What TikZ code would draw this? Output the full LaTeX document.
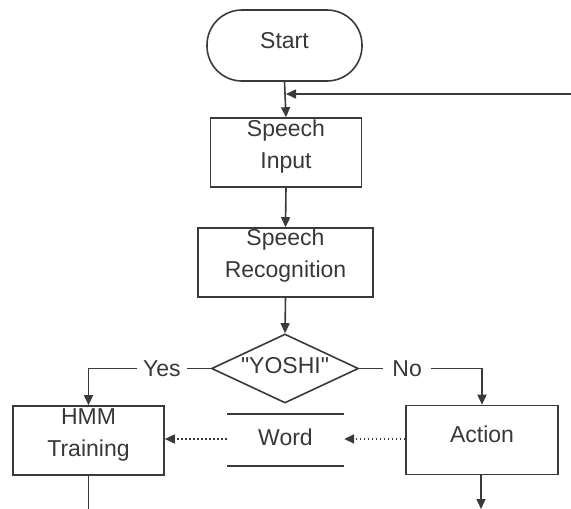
\documentclass[tikz,border=0pt]{standalone}
\usepackage{fontspec}
\setmainfont{Liberation Sans}
\usetikzlibrary{arrows.meta,shapes.geometric}
\definecolor{ink}{HTML}{3A3A3A}
\definecolor{txt}{HTML}{383838}
\begin{document}
\begin{tikzpicture}[x=1pt,y=-1pt,
  every node/.style={font=\fontsize{23}{32}\selectfont, text=txt, align=center},
  box/.style={draw=ink, line width=1.6pt, rectangle, inner sep=0pt},
  conn/.style={draw=ink, line width=1.6pt, -{Triangle[length=10pt,width=9pt]}},
  dotconn/.style={draw=ink, line width=1.6pt, dash pattern=on 1.5pt off 2.5pt, -{Triangle[length=10pt,width=9pt]}},
  plain/.style={draw=ink, line width=1.6pt},
  lbl/.style={fill=white, inner xsep=6pt, inner ysep=1pt}]
\useasboundingbox[fill=white] (0,0) rectangle (571,509);
\node[box, rounded corners=35pt, minimum width=155pt, minimum height=71pt] (start) at (284.5,45.5) {};
\node at (284.5,41) (starttxt) {Start};
\node[box, minimum width=151pt, minimum height=69pt] (input) at (286,152.5) {};
\node at (286,147) (inputtxt) {Speech\\Input};
\node[box, minimum width=175pt, minimum height=69pt] (recog) at (285.5,262.5) {};
\node at (285.5,256) (recogtxt) {Speech\\Recognition};
\node[draw=ink, line width=1.6pt, diamond, minimum width=147pt, minimum height=69pt, inner sep=0pt] (yoshi) at (285,368.5) {};
\node at (285,366) (yoshitxt) {\textquotedbl YOSHI\textquotedbl};
\node[box, minimum width=151pt, minimum height=69pt] (hmm) at (88.5,440.5) {};
\node at (88.5,435) (hmmtxt) {HMM\\Training};
\node[box, minimum width=152pt, minimum height=69pt] (action) at (482,440) {};
\node at (482,434) (actiontxt) {Action};
\node[minimum width=117pt, minimum height=52pt, inner sep=0pt] (word) at (285.5,440) {};
\node at (285.5,437) (wordtxt) {Word};
\draw[plain] (word.north west) -- (word.north east);
\draw[plain] (word.south west) -- (word.south east);
\coordinate (ret) at (571,94);
\coordinate (hmmend) at (88.5,512);
\coordinate (actend) at (481,509);
\draw[conn] (start.south) -- (input.north);
\draw[conn] (ret) -- (ret -| input.north);
\draw[conn] (input.south) -- (recog.north);
\draw[conn] (recog.south) -- (yoshi.north);
\draw[conn] (yoshi.west) -| node[lbl, pos=0.2] (yes) {Yes} (hmm.north);
\draw[conn] (yoshi.east) -| node[lbl, pos=0.195, inner xsep=9pt] (no) {No} (action.north);
\draw[dotconn] (action.west |- 0,439) -- (word.east |- 0,439);
\draw[dotconn] (word.west |- 0,439) -- (hmm.east |- 0,439);
\draw[plain] (hmm.south) -- (hmmend);
\draw[conn] (action.south -| actend) -- (actend);
\end{tikzpicture}
\end{document}
